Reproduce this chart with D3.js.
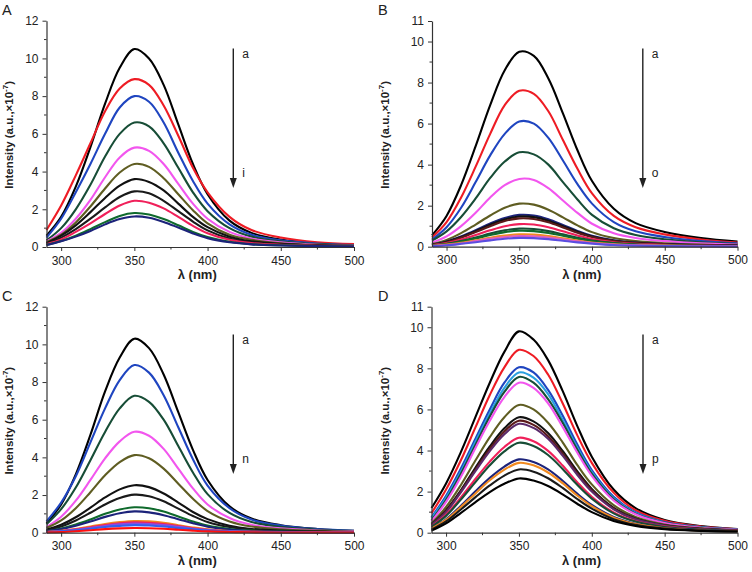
<!DOCTYPE html>
<html>
<head>
<meta charset="utf-8">
<script src="https://cdn.jsdelivr.net/npm/d3@7"></script>
<style>
html,body{margin:0;padding:0;background:#fff;}
svg{display:block;}
text{font-family:"Liberation Sans",Arial,sans-serif;}
</style>
</head>
<body>
<svg id="chart" width="752" height="572"></svg>
<script>
// ---- data ----
const wavelengths = [290,300,310,320,330,340,350,360,370,380,390,400,415,430,450,475,500];
const xTicks = [300,350,400,450,500];
const xMinor = [325,375,425,475];
const yTicks12 = [0,2,4,6,8,10,12];
const yMinor12 = [1,3,5,7,9,11];
const yTicks11 = [0,2,4,6,8,10,11];
const yMinor11 = [1,3,5,7,9];

const seriesA = [
 [0.6,1.6,3.2,5.3,7.6,9.5,10.5,10.0,8.6,6.5,4.4,2.8,1.4,0.75,0.4,0.2,0.1],
 [0.9,2.2,3.8,5.5,7.2,8.4,8.9,8.6,7.5,5.9,4.2,2.9,1.6,0.9,0.5,0.25,0.15],
 [0.5,1.5,2.9,4.4,6.0,7.4,8.0,7.7,6.6,5.0,3.5,2.3,1.2,0.65,0.35,0.18,0.1],
 [0.35,1.0,2.0,3.3,4.8,6.0,6.6,6.4,5.5,4.2,2.9,1.9,1.0,0.55,0.3,0.15,0.08],
 [0.3,0.75,1.5,2.5,3.7,4.75,5.27,5.1,4.4,3.35,2.3,1.5,0.8,0.45,0.25,0.12,0.07],
 [0.25,0.65,1.3,2.15,3.1,3.95,4.4,4.25,3.65,2.8,1.95,1.25,0.65,0.38,0.2,0.1,0.06],
 [0.2,0.6,1.15,1.85,2.6,3.25,3.6,3.45,3.0,2.3,1.6,1.05,0.55,0.3,0.17,0.09,0.05],
 [0.18,0.5,0.95,1.5,2.1,2.65,2.95,2.85,2.45,1.9,1.35,0.88,0.45,0.25,0.14,0.08,0.05],
 [0.15,0.4,0.8,1.25,1.75,2.2,2.45,2.35,2.05,1.6,1.12,0.73,0.38,0.21,0.12,0.07,0.04],
 [0.12,0.32,0.6,0.95,1.32,1.65,1.8,1.72,1.48,1.15,0.8,0.53,0.28,0.15,0.09,0.05,0.03],
 [0.1,0.3,0.55,0.85,1.2,1.48,1.62,1.55,1.33,1.03,0.72,0.47,0.25,0.14,0.08,0.05,0.03]
];
const colorsA = ["#000000","#ee1c24","#1f45c0","#174d36","#f256ee","#5f5d22","#111111","#1a1a1a","#f0205a","#0f6a2c","#1c237a"];

const seriesB = [
 [0.55,1.5,3.0,4.9,6.9,8.6,9.5,9.3,8.2,6.5,4.7,3.2,1.85,1.15,0.72,0.42,0.25],
 [0.45,1.2,2.4,3.9,5.5,6.9,7.6,7.45,6.6,5.2,3.8,2.6,1.5,0.95,0.6,0.35,0.2],
 [0.35,0.95,1.9,3.15,4.45,5.5,6.1,6.0,5.3,4.2,3.05,2.1,1.2,0.75,0.47,0.28,0.17],
 [0.3,0.75,1.45,2.35,3.35,4.15,4.6,4.5,4.0,3.15,2.3,1.55,0.9,0.57,0.36,0.21,0.13],
 [0.2,0.5,1.0,1.65,2.4,3.0,3.3,3.25,2.85,2.25,1.65,1.12,0.65,0.42,0.27,0.16,0.1],
 [0.13,0.33,0.66,1.08,1.52,1.9,2.1,2.05,1.8,1.43,1.04,0.71,0.42,0.27,0.17,0.1,0.06],
 [0.1,0.25,0.5,0.8,1.13,1.4,1.55,1.52,1.34,1.06,0.77,0.53,0.31,0.2,0.13,0.08,0.05],
 [0.09,0.24,0.47,0.76,1.07,1.33,1.47,1.44,1.27,1.0,0.73,0.5,0.29,0.19,0.12,0.07,0.05],
 [0.08,0.22,0.44,0.71,1.0,1.25,1.38,1.35,1.19,0.94,0.68,0.47,0.27,0.18,0.11,0.07,0.04],
 [0.07,0.18,0.35,0.57,0.8,1.0,1.1,1.08,0.95,0.75,0.55,0.37,0.22,0.14,0.09,0.05,0.03],
 [0.06,0.14,0.28,0.45,0.64,0.8,0.88,0.86,0.76,0.6,0.44,0.3,0.18,0.11,0.07,0.04,0.03],
 [0.05,0.13,0.25,0.4,0.57,0.71,0.78,0.76,0.67,0.53,0.39,0.27,0.16,0.1,0.06,0.04,0.02],
 [0.04,0.1,0.19,0.31,0.44,0.54,0.6,0.59,0.52,0.41,0.3,0.2,0.12,0.08,0.05,0.03,0.02],
 [0.03,0.08,0.16,0.27,0.38,0.47,0.52,0.51,0.45,0.36,0.26,0.18,0.1,0.07,0.04,0.02,0.02],
 [0.03,0.07,0.14,0.22,0.31,0.39,0.43,0.42,0.37,0.29,0.21,0.15,0.08,0.05,0.03,0.02,0.01]
];
const colorsB = ["#000000","#ee1c24","#1f45c0","#174d36","#f256ee","#5f5d22","#1c237a","#111111","#5a1a1a","#f0205a","#174d36","#0f6a2c","#f08a20","#e060c0","#5a4de0"];

const seriesC = [
 [0.5,1.5,3.1,5.2,7.5,9.3,10.3,9.8,8.4,6.4,4.4,2.8,1.4,0.75,0.4,0.2,0.1],
 [0.6,1.6,3.0,4.8,6.6,8.1,8.9,8.5,7.3,5.6,3.9,2.5,1.3,0.7,0.38,0.19,0.1],
 [0.45,1.25,2.4,3.85,5.35,6.6,7.27,6.95,6.0,4.6,3.2,2.05,1.05,0.57,0.31,0.16,0.09],
 [0.3,0.85,1.7,2.8,3.95,4.85,5.36,5.15,4.45,3.4,2.35,1.5,0.78,0.42,0.23,0.12,0.07],
 [0.25,0.65,1.3,2.15,3.05,3.75,4.12,3.95,3.4,2.6,1.8,1.15,0.6,0.33,0.18,0.1,0.05],
 [0.15,0.42,0.82,1.33,1.87,2.3,2.52,2.42,2.08,1.6,1.1,0.72,0.37,0.2,0.11,0.06,0.04],
 [0.12,0.33,0.65,1.06,1.5,1.84,2.02,1.94,1.67,1.28,0.89,0.57,0.3,0.17,0.09,0.05,0.03],
 [0.08,0.22,0.43,0.7,1.0,1.23,1.35,1.3,1.12,0.86,0.6,0.38,0.2,0.11,0.06,0.04,0.02],
 [0.07,0.19,0.37,0.59,0.84,1.03,1.13,1.08,0.93,0.72,0.5,0.32,0.17,0.09,0.05,0.03,0.02],
 [0.04,0.1,0.2,0.33,0.46,0.56,0.62,0.6,0.52,0.4,0.28,0.18,0.09,0.05,0.03,0.02,0.01],
 [0.04,0.09,0.18,0.29,0.41,0.5,0.55,0.53,0.46,0.35,0.24,0.16,0.08,0.05,0.03,0.02,0.01],
 [0.03,0.08,0.16,0.25,0.36,0.44,0.48,0.46,0.4,0.31,0.21,0.14,0.07,0.04,0.02,0.01,0.01],
 [0.03,0.07,0.13,0.21,0.3,0.36,0.4,0.38,0.33,0.25,0.18,0.11,0.06,0.03,0.02,0.01,0.01],
 [0.02,0.04,0.08,0.13,0.19,0.23,0.25,0.24,0.21,0.16,0.11,0.07,0.04,0.02,0.01,0.01,0.01]
];
const colorsC = ["#000000","#1f45c0","#174d36","#f256ee","#5f5d22","#111111","#1a1a1a","#0f6a2c","#1c237a","#f08a20","#f0205a","#8a4de0","#3060f0","#ff1010"];

const seriesD = [
 [1.2,2.4,3.9,5.6,7.3,8.8,9.8,9.4,8.4,6.9,5.2,3.7,2.1,1.2,0.62,0.32,0.18],
 [0.95,2.1,3.5,5.1,6.7,8.05,8.9,8.6,7.7,6.3,4.75,3.4,1.95,1.1,0.58,0.3,0.17],
 [0.75,1.8,3.1,4.55,6.0,7.3,8.05,7.8,6.95,5.7,4.3,3.05,1.75,1.0,0.52,0.27,0.15],
 [0.7,1.7,2.95,4.4,5.8,7.05,7.8,7.55,6.75,5.5,4.15,2.95,1.68,0.96,0.5,0.26,0.15],
 [0.6,1.6,2.85,4.25,5.65,6.85,7.58,7.3,6.5,5.35,4.05,2.87,1.63,0.93,0.49,0.25,0.14],
 [0.55,1.5,2.7,4.1,5.45,6.6,7.3,7.05,6.3,5.15,3.9,2.77,1.57,0.9,0.47,0.24,0.14],
 [0.45,1.25,2.3,3.5,4.65,5.62,6.22,6.0,5.35,4.4,3.3,2.35,1.34,0.77,0.4,0.21,0.12],
 [0.4,1.1,2.05,3.15,4.2,5.08,5.62,5.42,4.85,3.98,3.0,2.13,1.21,0.69,0.36,0.19,0.11],
 [0.38,1.05,2.0,3.05,4.08,4.93,5.45,5.25,4.7,3.86,2.9,2.07,1.17,0.67,0.35,0.18,0.1],
 [0.37,1.0,1.95,2.98,3.97,4.79,5.3,5.1,4.57,3.75,2.82,2.0,1.14,0.65,0.34,0.18,0.1],
 [0.3,0.88,1.7,2.6,3.46,4.17,4.62,4.45,3.98,3.27,2.46,1.75,0.99,0.57,0.3,0.15,0.09],
 [0.28,0.82,1.6,2.45,3.28,3.96,4.38,4.22,3.78,3.1,2.33,1.66,0.94,0.54,0.28,0.15,0.08],
 [0.2,0.65,1.3,2.0,2.67,3.22,3.57,3.44,3.08,2.53,1.9,1.35,0.77,0.44,0.23,0.12,0.07],
 [0.2,0.62,1.24,1.9,2.55,3.07,3.4,3.28,2.93,2.41,1.81,1.29,0.73,0.42,0.22,0.11,0.06],
 [0.15,0.55,1.12,1.72,2.3,2.78,3.08,2.97,2.65,2.18,1.64,1.17,0.66,0.38,0.2,0.1,0.06],
 [0.1,0.45,0.95,1.48,1.98,2.38,2.64,2.54,2.27,1.87,1.41,1.0,0.57,0.33,0.17,0.09,0.05]
];
const colorsD = ["#000000","#ee1c24","#1f45c0","#2aa0e0","#174d36","#f256ee","#5f5d22","#111111","#5a1a1a","#5a2a6a","#f0205a","#174d36","#1c237a","#f08a20","#1a1a1a","#000000"];

const panelLetters = ["A","B","C","D"];
const arrowLabels = [["a","i"],["a","o"],["a","n"],["a","p"]];

// ---- layout ----
const panels = [
 {data:seriesA, colors:colorsA, ymax:12, yt:yTicks12, ym:yMinor12, x0:46.5, x1:354, yTop:20.7, yBot:247, ox:0, oy:0, ax:233.3},
 {data:seriesB, colors:colorsB, ymax:11, yt:yTicks11, ym:yMinor11, x0:432, x1:737.5, yTop:21, yBot:246.7, ox:376, oy:0, ax:642.8},
 {data:seriesC, colors:colorsC, ymax:12, yt:yTicks12, ym:yMinor12, x0:46.5, x1:354, yTop:306.7, yBot:532.7, ox:0, oy:286, ax:233.3},
 {data:seriesD, colors:colorsD, ymax:11, yt:yTicks11, ym:yMinor11, x0:431.5, x1:737.5, yTop:306.7, yBot:532.7, ox:376, oy:286, ax:643}
];

const svg = d3.select("#chart");
const axisColor = "#333";

panels.forEach((p, i) => {
  const x = d3.scaleLinear().domain([290, 500]).range([p.x0, p.x1]);
  const y = d3.scaleLinear().domain([0, p.ymax]).range([p.yBot, p.yTop]);
  const g = svg.append("g");

  // curves
  const line = d3.line().x((d, k) => x(wavelengths[k])).y(d => y(d)).curve(d3.curveCatmullRom.alpha(0.5));
  g.selectAll("path.curve").data(p.data).join("path")
    .attr("class","curve")
    .attr("d", d => line(d))
    .attr("fill","none")
    .attr("stroke", (d, k) => p.colors[k])
    .attr("stroke-width", 2.1)
    .attr("stroke-linejoin","round");

  // axes
  const xAxis = d3.axisBottom(x).tickValues(xTicks).tickSize(4).tickPadding(5).tickSizeOuter(0);
  const xg = g.append("g").attr("transform", `translate(0,${p.yBot})`).call(xAxis);
  xg.append("g").selectAll("line").data(xMinor).join("line")
    .attr("x1", d => x(d)).attr("x2", d => x(d)).attr("y1", 0).attr("y2", 2.5)
    .attr("stroke", axisColor);
  const yAxis = d3.axisLeft(y).tickValues(p.yt).tickSize(4).tickPadding(4).tickSizeOuter(0);
  const yg = g.append("g").attr("transform", `translate(${p.x0},0)`).call(yAxis);
  yg.append("g").selectAll("line").data(p.ym).join("line")
    .attr("x1", 0).attr("x2", -2.5).attr("y1", d => y(d)).attr("y2", d => y(d))
    .attr("stroke", axisColor);
  [xg, yg].forEach(a => {
    a.select(".domain").attr("stroke", axisColor).attr("stroke-width", 1.2);
    a.selectAll(".tick line").attr("stroke", axisColor);
    a.selectAll(".tick text").attr("font-size", 12).attr("fill", "#222")
      .attr("font-family", '"Liberation Sans",Arial,sans-serif');
  });

  // axis titles
  const cx = (p.x0 + p.x1) / 2;
  g.append("text").attr("x", cx - 3).attr("y", p.yBot + 32)
    .attr("text-anchor","middle").attr("font-size", 13).attr("font-weight","bold").attr("fill","#222")
    .text("λ (nm)");
  const yl = g.append("text")
    .attr("transform", `translate(${p.ox + 12.5},${(p.yTop + p.yBot) / 2 + 1}) rotate(-90)`)
    .attr("text-anchor","middle").attr("font-size", 11.5).attr("font-weight","bold").attr("fill","#222");
  yl.append("tspan").text("Intensity (a.u.,×10");
  yl.append("tspan").attr("font-size", 8).attr("dy", -4.5).text("-7");
  yl.append("tspan").attr("dy", 4.5).text(")");

  // panel letter
  g.append("text").attr("x", p.ox + 2).attr("y", p.oy + 15)
    .attr("font-size", 14.5).attr("fill","#222").text(panelLetters[i]);

  // arrow
  const aTop = p.oy + 48.5, aTip = p.oy + 188;
  g.append("line").attr("x1", p.ax).attr("x2", p.ax).attr("y1", aTop).attr("y2", aTip - 8)
    .attr("stroke","#222").attr("stroke-width", 1.4);
  g.append("path")
    .attr("d", `M${p.ax - 3.5},${aTip - 10} L${p.ax + 3.5},${aTip - 10} L${p.ax},${aTip} Z`)
    .attr("fill","#222");
  g.append("text").attr("x", p.ax + 9).attr("y", p.oy + 57.5)
    .attr("font-size", 12).attr("fill","#222").text(arrowLabels[i][0]);
  g.append("text").attr("x", p.ax + 9).attr("y", p.oy + 176.5)
    .attr("font-size", 12).attr("fill","#222").text(arrowLabels[i][1]);
});
</script>
</body>
</html>
